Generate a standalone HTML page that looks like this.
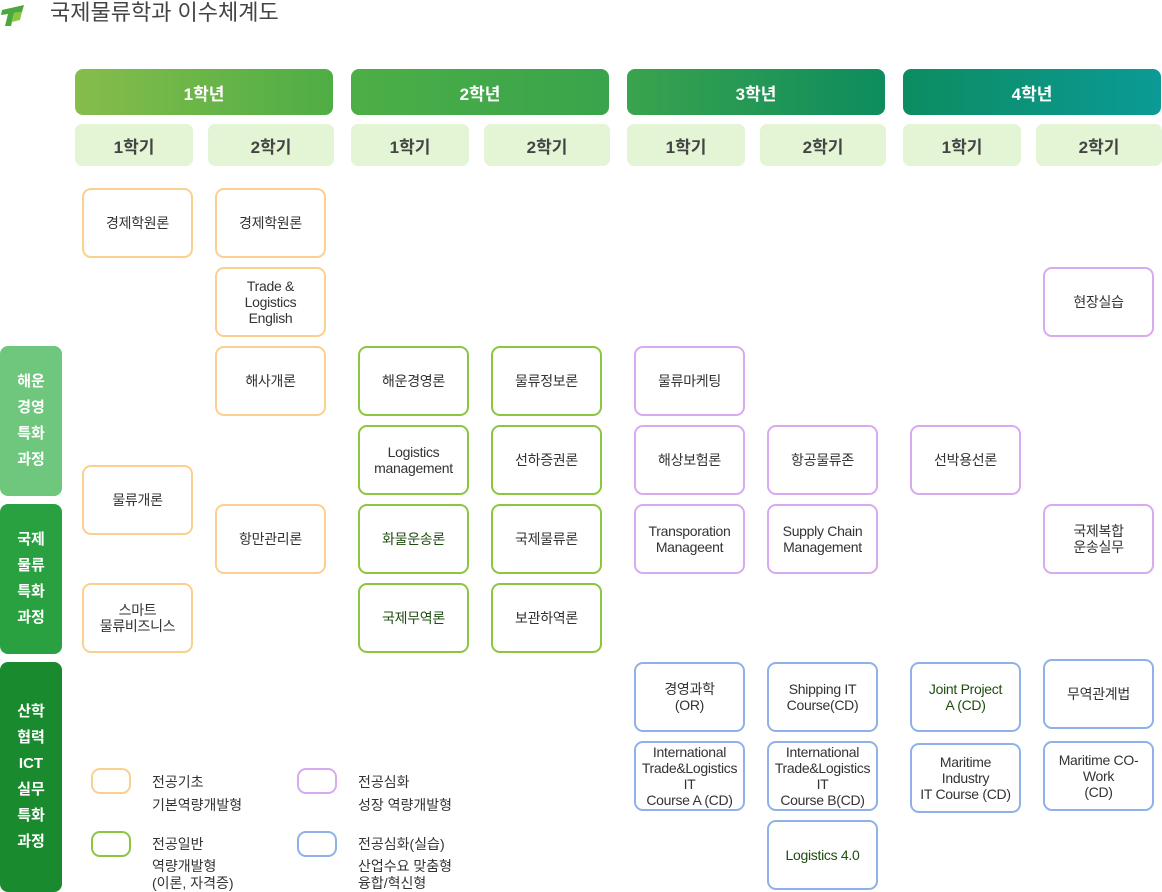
<!DOCTYPE html>
<html><head><meta charset="utf-8"><style>
body{margin:0;width:1162px;height:892px;background:#fff;position:relative;overflow:hidden;font-family:"Liberation Sans","Noto Sans CJK KR",sans-serif;}
.a{position:absolute;box-sizing:border-box;}
.b{position:absolute;box-sizing:border-box;width:111px;height:70px;border:2px solid;border-radius:9px;display:flex;align-items:center;justify-content:center;text-align:center;font-size:14px;line-height:16px;color:#333;letter-spacing:-0.3px;}
.lg{position:absolute;width:40px;height:26px;border:2px solid;border-radius:9px;box-sizing:border-box;}
.o{border-color:#fbd08f}.g{border-color:#8cc63f}.p{border-color:#d8aaf0}.u{border-color:#8fb1e9}
.dg{color:#1f4d10}
.y{position:absolute;top:69px;height:46px;width:258px;border-radius:8px;color:#fff;font-weight:bold;font-size:17px;display:flex;align-items:center;justify-content:center;}
.s{position:absolute;top:124px;height:42px;width:126px;border-radius:7px;background:#e3f5d5;color:#444;font-weight:bold;font-size:17px;display:flex;align-items:center;justify-content:center;}
.side{position:absolute;left:0;width:62px;border-radius:8px;color:#fff;font-weight:bold;font-size:15px;line-height:26px;display:flex;align-items:center;justify-content:center;text-align:center;}
.lt{position:absolute;font-size:14px;line-height:17px;color:#333;}
</style></head><body>
<svg class="a" style="left:0;top:2px" width="26" height="26" viewBox="0 0 26 26"><path d="M2 8 L24 3 L22 10 L14 11 L11 24 L5 24 L8 12 L1 13Z" fill="#4aa83c"/><path d="M14 11 L22 10 L20 18 L12 20Z" fill="#8cc63f"/></svg>
<div class="a" style="left:50px;top:-1px;font-size:22px;color:#444;line-height:28px;">국제물류학과 이수체계도</div>

<div class="y" style="left:75px;background:linear-gradient(90deg,#86bd4b,#4ead45)">1학년</div>
<div class="y" style="left:351px;background:linear-gradient(90deg,#4cae46,#39a44c)">2학년</div>
<div class="y" style="left:627px;background:linear-gradient(90deg,#3aa34d,#0d8c5e)">3학년</div>
<div class="y" style="left:903px;background:linear-gradient(90deg,#0c8c60,#0b9a96)">4학년</div>

<div class="s" style="left:75px;width:118px">1학기</div><div class="s" style="left:208px">2학기</div>
<div class="s" style="left:351px;width:118px">1학기</div><div class="s" style="left:484px">2학기</div>
<div class="s" style="left:627px;width:118px">1학기</div><div class="s" style="left:760px">2학기</div>
<div class="s" style="left:903px;width:118px">1학기</div><div class="s" style="left:1036px">2학기</div>

<div class="side" style="top:346px;height:150px;background:#6ec77d">해운<br>경영<br>특화<br>과정</div>
<div class="side" style="top:504px;height:150px;background:#29a141">국제<br>물류<br>특화<br>과정</div>
<div class="side" style="top:662px;height:230px;background:#1a8a2f">산학<br>협력<br>ICT<br>실무<br>특화<br>과정</div>

<div class="b o" style="left:82px;top:188px">경제학원론</div>
<div class="b o" style="left:82px;top:465px">물류개론</div>
<div class="b o" style="left:82px;top:583px">스마트<br>물류비즈니스</div>
<div class="b o" style="left:215px;top:188px">경제학원론</div>
<div class="b o" style="left:215px;top:267px">Trade &amp;<br>Logistics<br>English</div>
<div class="b o" style="left:215px;top:346px">해사개론</div>
<div class="b o" style="left:215px;top:504px">항만관리론</div>

<div class="b g" style="left:358px;top:346px">해운경영론</div>
<div class="b g" style="left:358px;top:425px">Logistics<br>management</div>
<div class="b g dg" style="left:358px;top:504px">화물운송론</div>
<div class="b g dg" style="left:358px;top:583px">국제무역론</div>
<div class="b g" style="left:491px;top:346px">물류정보론</div>
<div class="b g" style="left:491px;top:425px">선하증권론</div>
<div class="b g" style="left:491px;top:504px">국제물류론</div>
<div class="b g" style="left:491px;top:583px">보관하역론</div>

<div class="b p" style="left:634px;top:346px">물류마케팅</div>
<div class="b p" style="left:634px;top:425px">해상보험론</div>
<div class="b p" style="left:634px;top:504px">Transporation<br>Manageent</div>
<div class="b u" style="left:634px;top:662px">경영과학<br>(OR)</div>
<div class="b u" style="left:634px;top:741px">International<br>Trade&amp;Logistics<br>IT<br>Course A (CD)</div>

<div class="b p" style="left:767px;top:425px">항공물류존</div>
<div class="b p" style="left:767px;top:504px">Supply Chain<br>Management</div>
<div class="b u" style="left:767px;top:662px">Shipping IT<br>Course(CD)</div>
<div class="b u" style="left:767px;top:741px">International<br>Trade&amp;Logistics<br>IT<br>Course B(CD)</div>
<div class="b u dg" style="left:767px;top:820px">Logistics 4.0</div>

<div class="b p" style="left:910px;top:425px">선박용선론</div>
<div class="b u dg" style="left:910px;top:662px">Joint Project<br>A (CD)</div>
<div class="b u" style="left:910px;top:743px">Maritime<br>Industry<br>IT Course (CD)</div>

<div class="b p" style="left:1043px;top:267px">현장실습</div>
<div class="b p" style="left:1043px;top:504px">국제복합<br>운송실무</div>
<div class="b u" style="left:1043px;top:659px">무역관계법</div>
<div class="b u" style="left:1043px;top:741px">Maritime CO-<br>Work<br>(CD)</div>

<div class="lg o" style="left:91px;top:768px"></div>
<div class="lt" style="left:152px;top:774px">전공기초</div>
<div class="lt" style="left:152px;top:797px">기본역량개발형</div>
<div class="lg p" style="left:297px;top:768px"></div>
<div class="lt" style="left:358px;top:774px">전공심화</div>
<div class="lt" style="left:358px;top:797px">성장 역량개발형</div>
<div class="lg g" style="left:91px;top:831px"></div>
<div class="lt" style="left:152px;top:836px">전공일반</div>
<div class="lt" style="left:152px;top:858px">역량개발형<br>(이론, 자격증)</div>
<div class="lg u" style="left:297px;top:831px"></div>
<div class="lt" style="left:358px;top:836px">전공심화(실습)</div>
<div class="lt" style="left:358px;top:858px">산업수요 맞춤형<br>융합/혁신형</div>
</body></html>
